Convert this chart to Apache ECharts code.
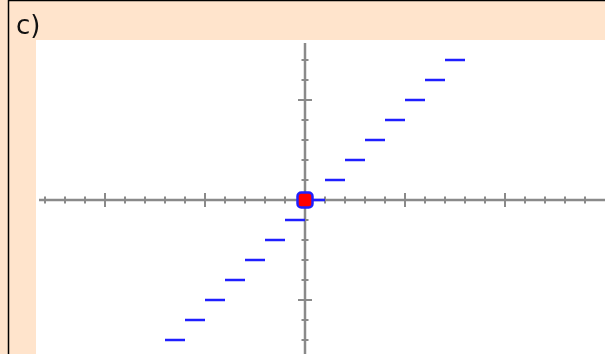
<!DOCTYPE html>
<html>
<head>
<meta charset="utf-8">
<script src="https://cdn.jsdelivr.net/npm/echarts@6/dist/echarts.min.js"></script>
<style>
  html, body { margin: 0; padding: 0; background: #ffe4cc; }
  #chart { width: 605px; height: 354px; }
</style>
</head>
<body>
<div id="chart"></div>
<script>
  // step function y = floor(x): each step starts at stepStart, ends one unit later
  const stepStarts = [-7, -6, -5, -4, -3, -2, -1, 0, 1, 2, 3, 4, 5, 6, 7]
  const stepEnds = [-6, -5, -4, -3, -2, -1, 0, 1, 2, 3, 4, 5, 6, 7, 8]
  const stepLevels = [-7, -6, -5, -4, -3, -2, -1, 0, 1, 2, 3, 4, 5, 6, 7]
  const marker = [[0, 0]]

  const xTicks = [-13, -12, -11, -10, -9, -8, -7, -6, -5, -4, -3, -2, -1, 1, 2, 3, 4, 5, 6, 7, 8, 9, 10, 11, 12, 13, 14]
  const yTicks = [7, 6, 5, 4, 3, 2, 1, -1, -2, -3, -4, -5, -6, -7]
  const xRange = [-13.45, 15]
  const yRange = [-7.7, 8]
  const label = 'c)'

  const chart = echarts.init(document.getElementById('chart'))

  const axisColor = '#8a8a8a'

  const option = {
    animation: false,
    backgroundColor: '#ffe4cc',
    graphic: [
      { type: 'line', shape: { x1: 8.5, y1: 0, x2: 8.5, y2: 354 }, style: { stroke: '#000', lineWidth: 1.5 } },
      { type: 'line', shape: { x1: 8, y1: 0.5, x2: 605, y2: 0.5 }, style: { stroke: '#000', lineWidth: 1.5 } },
      {
        type: 'text',
        left: 16,
        top: 14,
        style: { text: label, font: '26px "DejaVu Sans"', fill: '#111' },
      },
    ],
    grid: {
      left: 36,
      right: 0,
      top: 40,
      bottom: 0,
      show: true,
      backgroundColor: '#fff',
      borderWidth: 0,
    },
    xAxis: { type: 'value', min: xRange[0], max: xRange[1], show: false },
    yAxis: { type: 'value', min: yRange[0], max: yRange[1], show: false },
    series: [
      {
        // axes with ticks crossing both sides
        type: 'custom',
        silent: true,
        data: [0],
        renderItem(params, api) {
          const o = api.coord([0, 0])
          const left = api.coord([-13.3, 0])
          const right = api.coord([xRange[1], 0])
          const top = api.coord([0, 7.85])
          const bottom = api.coord([0, yRange[0]])
          const children = [
            { type: 'line', shape: { x1: left[0], y1: o[1], x2: right[0], y2: o[1] }, style: { stroke: axisColor, lineWidth: 2.5 } },
            { type: 'line', shape: { x1: o[0], y1: top[1], x2: o[0], y2: bottom[1] }, style: { stroke: axisColor, lineWidth: 2.5 } },
          ]
          for (const t of xTicks) {
            const p = api.coord([t, 0])
            const len = t % 5 === 0 ? 7 : 3.5
            children.push({ type: 'line', shape: { x1: p[0], y1: p[1] - len, x2: p[0], y2: p[1] + len }, style: { stroke: axisColor, lineWidth: 2 } })
          }
          for (const t of yTicks) {
            const p = api.coord([0, t])
            const len = t % 5 === 0 ? 7 : 3.5
            children.push({ type: 'line', shape: { x1: p[0] - len, y1: p[1], x2: p[0] + len, y2: p[1] }, style: { stroke: axisColor, lineWidth: 2 } })
          }
          return { type: 'group', children }
        },
        z: 1,
      },
      {
        type: 'custom',
        silent: true,
        data: stepLevels.map((y, i) => [stepStarts[i], stepEnds[i], y]),
        renderItem(params, api) {
          const a = api.coord([api.value(0), api.value(2)])
          const b = api.coord([api.value(1), api.value(2)])
          return {
            type: 'line',
            shape: { x1: a[0], y1: a[1], x2: b[0], y2: b[1] },
            style: { stroke: '#1f1fff', lineWidth: 2.5 },
          }
        },
        z: 2,
      },
      {
        type: 'scatter',
        data: marker,
        symbol: 'roundRect',
        symbolSize: 15,
        itemStyle: { color: '#ff0000', borderColor: '#1f1fff', borderWidth: 2.5, opacity: 1 },
        z: 3,
      },
    ],
  }

  chart.setOption(option)
</script>
</body>
</html>
